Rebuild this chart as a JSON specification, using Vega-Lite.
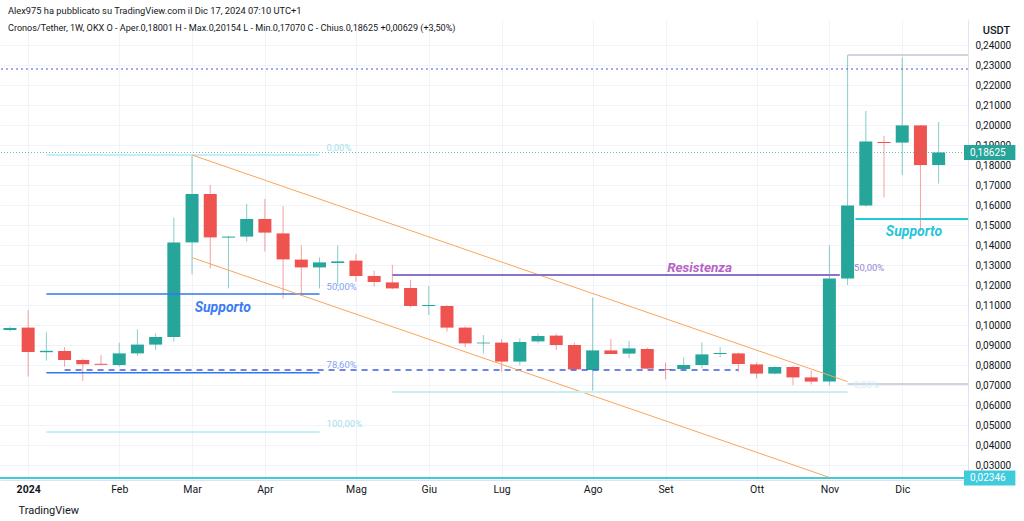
{
  "$schema": "https://vega.github.io/schema/vega-lite/v6.json",
  "width": 968,
  "height": 460,
  "autosize": {"type": "none"},
  "padding": {"left": 0, "top": 20, "right": 56, "bottom": 41},
  "background": "#ffffff",
  "config": {"view": {"stroke": null}, "font": "Roboto"},
  "title": {
    "text": "Alex975 ha pubblicato su TradingView.com il Dic 17, 2024 07:10 UTC+1",
    "subtitle": "Cronos/Tether, 1W, OKX  O - Aper.0,18001  H - Max.0,20154  L - Min.0,17070  C - Chius.0,18625  +0,00629 (+3,50%)",
    "anchor": "start",
    "frame": "group",
    "offset": -13,
    "dx": 8,
    "fontSize": 9.3,
    "fontWeight": "normal",
    "color": "#131722",
    "subtitleFontSize": 9.1,
    "subtitleColor": "#131722",
    "subtitlePadding": 8
  },
  "datasets": {
    "candles": [
      {"d": "2023-12-25", "o": 0.0975, "h": 0.0992, "l": 0.0968, "c": 0.0985},
      {"d": "2024-01-01", "o": 0.0987, "h": 0.1075, "l": 0.0742, "c": 0.0865},
      {"d": "2024-01-08", "o": 0.0864, "h": 0.0964, "l": 0.0822, "c": 0.0871},
      {"d": "2024-01-15", "o": 0.0870, "h": 0.0889, "l": 0.0792, "c": 0.0825},
      {"d": "2024-01-22", "o": 0.0825, "h": 0.0833, "l": 0.0720, "c": 0.0804},
      {"d": "2024-01-29", "o": 0.0806, "h": 0.0850, "l": 0.0800, "c": 0.0801},
      {"d": "2024-02-05", "o": 0.0800, "h": 0.0911, "l": 0.0792, "c": 0.0858},
      {"d": "2024-02-12", "o": 0.0858, "h": 0.0978, "l": 0.0845, "c": 0.0902},
      {"d": "2024-02-19", "o": 0.0902, "h": 0.0958, "l": 0.0875, "c": 0.0940},
      {"d": "2024-02-26", "o": 0.0940, "h": 0.1537, "l": 0.0917, "c": 0.1413},
      {"d": "2024-03-04", "o": 0.1413, "h": 0.1850, "l": 0.1253, "c": 0.1655},
      {"d": "2024-03-11", "o": 0.1655, "h": 0.1700, "l": 0.1283, "c": 0.1438},
      {"d": "2024-03-18", "o": 0.1437, "h": 0.1445, "l": 0.1183, "c": 0.1442},
      {"d": "2024-03-25", "o": 0.1442, "h": 0.1605, "l": 0.1417, "c": 0.1530},
      {"d": "2024-04-01", "o": 0.1530, "h": 0.1630, "l": 0.1367, "c": 0.1462},
      {"d": "2024-04-08", "o": 0.1458, "h": 0.1595, "l": 0.1133, "c": 0.1328},
      {"d": "2024-04-15", "o": 0.1327, "h": 0.1398, "l": 0.1145, "c": 0.1288},
      {"d": "2024-04-22", "o": 0.1288, "h": 0.1338, "l": 0.1183, "c": 0.1313},
      {"d": "2024-04-29", "o": 0.1310, "h": 0.1398, "l": 0.1195, "c": 0.1318},
      {"d": "2024-05-06", "o": 0.1322, "h": 0.1355, "l": 0.1217, "c": 0.1245},
      {"d": "2024-05-13", "o": 0.1245, "h": 0.1272, "l": 0.1192, "c": 0.1215},
      {"d": "2024-05-20", "o": 0.1213, "h": 0.1300, "l": 0.1178, "c": 0.1183},
      {"d": "2024-05-27", "o": 0.1185, "h": 0.1225, "l": 0.1088, "c": 0.1095},
      {"d": "2024-06-03", "o": 0.1095, "h": 0.1195, "l": 0.1050, "c": 0.1100},
      {"d": "2024-06-10", "o": 0.1095, "h": 0.1100, "l": 0.0967, "c": 0.0987},
      {"d": "2024-06-17", "o": 0.0987, "h": 0.0992, "l": 0.0889, "c": 0.0908},
      {"d": "2024-06-24", "o": 0.0908, "h": 0.0950, "l": 0.0858, "c": 0.0912},
      {"d": "2024-07-01", "o": 0.0912, "h": 0.0930, "l": 0.0767, "c": 0.0817},
      {"d": "2024-07-08", "o": 0.0817, "h": 0.0933, "l": 0.0800, "c": 0.0915},
      {"d": "2024-07-15", "o": 0.0918, "h": 0.0957, "l": 0.0908, "c": 0.0945},
      {"d": "2024-07-22", "o": 0.0947, "h": 0.0957, "l": 0.0875, "c": 0.0900},
      {"d": "2024-07-29", "o": 0.0900, "h": 0.0912, "l": 0.0776, "c": 0.0778},
      {"d": "2024-08-05", "o": 0.0775, "h": 0.1137, "l": 0.0672, "c": 0.0873},
      {"d": "2024-08-12", "o": 0.0873, "h": 0.0930, "l": 0.0853, "c": 0.0855},
      {"d": "2024-08-19", "o": 0.0857, "h": 0.0920, "l": 0.0833, "c": 0.0883},
      {"d": "2024-08-26", "o": 0.0880, "h": 0.0887, "l": 0.0780, "c": 0.0782},
      {"d": "2024-09-02", "o": 0.0780, "h": 0.0812, "l": 0.0728, "c": 0.0776},
      {"d": "2024-09-09", "o": 0.0780, "h": 0.0838, "l": 0.0770, "c": 0.0800},
      {"d": "2024-09-16", "o": 0.0800, "h": 0.0913, "l": 0.0783, "c": 0.0853},
      {"d": "2024-09-23", "o": 0.0855, "h": 0.0889, "l": 0.0838, "c": 0.0860},
      {"d": "2024-09-30", "o": 0.0858, "h": 0.0863, "l": 0.0767, "c": 0.0805},
      {"d": "2024-10-07", "o": 0.0803, "h": 0.0813, "l": 0.0732, "c": 0.0757},
      {"d": "2024-10-14", "o": 0.0757, "h": 0.0793, "l": 0.0753, "c": 0.0790},
      {"d": "2024-10-21", "o": 0.0790, "h": 0.0795, "l": 0.0700, "c": 0.0738},
      {"d": "2024-10-28", "o": 0.0738, "h": 0.0772, "l": 0.0703, "c": 0.0717},
      {"d": "2024-11-04", "o": 0.0717, "h": 0.1398, "l": 0.0698, "c": 0.1233},
      {"d": "2024-11-11", "o": 0.1233, "h": 0.2350, "l": 0.1200, "c": 0.1597},
      {"d": "2024-11-18", "o": 0.1597, "h": 0.2070, "l": 0.1592, "c": 0.1917},
      {"d": "2024-11-25", "o": 0.1915, "h": 0.1945, "l": 0.1638, "c": 0.1910},
      {"d": "2024-12-02", "o": 0.1912, "h": 0.2338, "l": 0.1750, "c": 0.1998},
      {"d": "2024-12-09", "o": 0.1998, "h": 0.2000, "l": 0.1467, "c": 0.1800},
      {"d": "2024-12-16", "o": 0.18001, "h": 0.20154, "l": 0.17070, "c": 0.18625}
    ]
  },
  "layer": [
    {
      "data": {"name": "candles"},
      "mark": {"type": "rule", "strokeWidth": 1, "opacity": 0.55},
      "encoding": {
        "x": {
          "field": "d", "type": "temporal",
          "scale": {"type": "utc", "nice": false, "domain": [
            {"year": 2023, "month": 12, "date": 23, "hours": 2, "minutes": 21, "utc": true},
            {"year": 2024, "month": 12, "date": 25, "hours": 8, "minutes": 40, "utc": true}
          ]},
          "axis": {
            "values": [
              {"year": 2024, "month": 1, "date": 1, "utc": true},
              {"year": 2024, "month": 2, "date": 5, "utc": true},
              {"year": 2024, "month": 3, "date": 4, "utc": true},
              {"year": 2024, "month": 4, "date": 1, "utc": true},
              {"year": 2024, "month": 5, "date": 6, "utc": true},
              {"year": 2024, "month": 6, "date": 3, "utc": true},
              {"year": 2024, "month": 7, "date": 1, "utc": true},
              {"year": 2024, "month": 8, "date": 5, "utc": true},
              {"year": 2024, "month": 9, "date": 2, "utc": true},
              {"year": 2024, "month": 10, "date": 7, "utc": true},
              {"year": 2024, "month": 11, "date": 4, "utc": true},
              {"year": 2024, "month": 12, "date": 2, "utc": true}
            ],
            "tickCount": 40,
            "labelExpr": "['2024','Feb','Mar','Apr','Mag','Giu','Lug','Ago','Set','Ott','Nov','Dic'][utcmonth(datum.value)]",
            "labelFontWeight": {"condition": {"test": "utcmonth(datum.value) == 0", "value": "bold"}, "value": "normal"},
            "labelFontSize": 10.5,
            "labelColor": "#131722",
            "labelFlush": false,
            "labelOverlap": false,
            "labelPadding": 4,
            "ticks": false,
            "grid": true,
            "gridColor": "#f0f3fa",
            "domainColor": "#e0e3eb",
            "title": "TradingView",
            "titleX": 18,
            "titleY": 30,
            "titleAlign": "left",
            "titleBaseline": "middle",
            "titleFontSize": 11,
            "titleFontWeight": "normal",
            "titleColor": "#131722"
          }
        },
        "y": {
          "field": "l", "type": "quantitative",
          "scale": {"domain": [0.0225, 0.2525], "zero": false, "nice": false},
          "axis": {
            "orient": "right",
            "values": [0.03, 0.04, 0.05, 0.06, 0.07, 0.08, 0.09, 0.10, 0.11, 0.12, 0.13, 0.14, 0.15, 0.16, 0.17, 0.18, 0.19, 0.20, 0.21, 0.22, 0.23, 0.24],
            "tickCount": 40,
            "labelExpr": "replace(format(datum.value, '.5f'), '.', ',')",
            "labelFontSize": 10,
            "labelColor": "#131722",
            "labelPadding": 7,
            "labelOverlap": false,
            "labelBound": false,
            "ticks": false,
            "grid": true,
            "gridColor": "#f0f3fa",
            "domainColor": "#e0e3eb",
            "title": "USDT",
            "titleAngle": 0,
            "titleX": 28,
            "titleY": 10,
            "titleAlign": "center",
            "titleBaseline": "middle",
            "titleFontSize": 11,
            "titleFontWeight": 500,
            "titleColor": "#131722"
          }
        },
        "y2": {"field": "h"},
        "color": {"condition": {"test": "datum.c >= datum.o", "value": "#26a69a"}, "value": "#ef5350"}
      }
    },
    {
      "data": {"name": "candles"},
      "mark": {"type": "bar", "width": 13},
      "encoding": {
        "x": {"field": "d", "type": "temporal"},
        "y": {"field": "o", "type": "quantitative"},
        "y2": {"field": "c"},
        "color": {"condition": {"test": "datum.c >= datum.o", "value": "#26a69a"}, "value": "#ef5350"}
      }
    },
    {
      "data": {"values": [{"d1": "2024-01-08", "d2": "2024-04-22", "p": 0.185}, {"d1": "2024-01-08", "d2": "2024-04-22", "p": 0.0465}]},
      "mark": {"type": "rule", "color": "#b2ebf2", "strokeWidth": 1.5},
      "encoding": {"x": {"field": "d1", "type": "temporal"}, "x2": {"field": "d2"}, "y": {"field": "p", "type": "quantitative"}}
    },
    {
      "data": {"values": [{"d1": "2024-01-08", "d2": "2024-04-22", "p": 0.1155}, {"d1": "2024-01-08", "d2": "2024-04-22", "p": 0.0761}]},
      "mark": {"type": "rule", "color": "#3377f0", "strokeWidth": 1.5},
      "encoding": {"x": {"field": "d1", "type": "temporal"}, "x2": {"field": "d2"}, "y": {"field": "p", "type": "quantitative"}}
    },
    {
      "data": {"values": [{"d1": "2024-01-15", "d2": "2024-09-30", "p": 0.0775}]},
      "mark": {"type": "rule", "color": "#3f5fd9", "strokeWidth": 1.5, "strokeDash": [6, 5]},
      "encoding": {"x": {"field": "d1", "type": "temporal"}, "x2": {"field": "d2"}, "y": {"field": "p", "type": "quantitative"}}
    },
    {
      "data": {"values": [{"p": 0.228}]},
      "mark": {"type": "rule", "color": "#4a5cd6", "strokeWidth": 1, "strokeDash": [2, 3]},
      "encoding": {"y": {"field": "p", "type": "quantitative"}}
    },
    {
      "data": {"values": [{"p": 0.18625}]},
      "mark": {"type": "rule", "color": "#26a69a", "strokeWidth": 1, "strokeDash": [1, 2], "opacity": 0.7},
      "encoding": {"y": {"field": "p", "type": "quantitative"}}
    },
    {
      "data": {"values": [{"p": 0.02346}]},
      "mark": {"type": "rule", "color": "#3fcbdc", "strokeWidth": 2},
      "encoding": {"y": {"field": "p", "type": "quantitative"}}
    },
    {
      "data": {"values": [
        {"d1": "2024-03-04", "p1": 0.185, "d2": "2024-11-11", "p2": 0.0717},
        {"d1": "2024-03-04", "p1": 0.1337, "d2": "2024-11-04", "p2": 0.0238}
      ]},
      "mark": {"type": "rule", "color": "#f9a65a", "strokeWidth": 1},
      "encoding": {"x": {"field": "d1", "type": "temporal"}, "x2": {"field": "d2"}, "y": {"field": "p1", "type": "quantitative"}, "y2": {"field": "p2"}}
    },
    {
      "data": {"values": [{"d1": "2024-05-20", "d2": "2024-11-08", "p": 0.125}]},
      "mark": {"type": "rule", "color": "#8c72c8", "strokeWidth": 2},
      "encoding": {"x": {"field": "d1", "type": "temporal"}, "x2": {"field": "d2"}, "y": {"field": "p", "type": "quantitative"}}
    },
    {
      "data": {"values": [{"d1": "2024-05-20", "d2": "2024-11-11", "p": 0.0665}]},
      "mark": {"type": "rule", "color": "#c9eff4", "strokeWidth": 2},
      "encoding": {"x": {"field": "d1", "type": "temporal"}, "x2": {"field": "d2"}, "y": {"field": "p", "type": "quantitative"}}
    },
    {
      "data": {"values": [{"d1": "2024-11-11", "d2": "2024-12-31", "p": 0.235}, {"d1": "2024-11-11", "d2": "2024-12-31", "p": 0.0705}]},
      "mark": {"type": "rule", "color": "#d1d4dc", "strokeWidth": 2, "clip": true},
      "encoding": {"x": {"field": "d1", "type": "temporal"}, "x2": {"field": "d2"}, "y": {"field": "p", "type": "quantitative"}}
    },
    {
      "data": {"values": [{"d1": "2024-11-14", "d2": "2024-12-31", "p": 0.153}]},
      "mark": {"type": "rule", "color": "#26c6da", "strokeWidth": 2, "clip": true},
      "encoding": {"x": {"field": "d1", "type": "temporal"}, "x2": {"field": "d2"}, "y": {"field": "p", "type": "quantitative"}}
    },
    {
      "data": {"values": [{"d": "2024-03-05T00:00:00Z", "p": 0.1085, "t": "Supporto"}]},
      "mark": {"type": "text", "align": "left", "baseline": "middle", "fontSize": 14, "fontWeight": "bold", "fontStyle": "italic", "color": "#3b7cf4"},
      "encoding": {"x": {"field": "d", "type": "temporal"}, "y": {"field": "p", "type": "quantitative"}, "text": {"field": "t"}}
    },
    {
      "data": {"values": [{"d": "2024-09-02T15:00:00Z", "p": 0.1285, "t": "Resistenza"}]},
      "mark": {"type": "text", "align": "left", "baseline": "middle", "fontSize": 13.5, "fontWeight": "bold", "fontStyle": "italic", "color": "#b564c6"},
      "encoding": {"x": {"field": "d", "type": "temporal"}, "y": {"field": "p", "type": "quantitative"}, "text": {"field": "t"}}
    },
    {
      "data": {"values": [{"d": "2024-11-25T17:00:00Z", "p": 0.1465, "t": "Supporto"}]},
      "mark": {"type": "text", "align": "left", "baseline": "middle", "fontSize": 14, "fontWeight": "bold", "fontStyle": "italic", "color": "#26c6da"},
      "encoding": {"x": {"field": "d", "type": "temporal"}, "y": {"field": "p", "type": "quantitative"}, "text": {"field": "t"}}
    },
    {
      "data": {"values": [{"d": "2024-04-24T17:00:00Z", "p": 0.1885, "t": "0,00%"}, {"d": "2024-04-24T17:00:00Z", "p": 0.0505, "t": "100,00%"}]},
      "mark": {"type": "text", "align": "left", "baseline": "middle", "fontSize": 9.5, "color": "#a6e0ea"},
      "encoding": {"x": {"field": "d", "type": "temporal"}, "y": {"field": "p", "type": "quantitative"}, "text": {"field": "t"}}
    },
    {
      "data": {"values": [{"d": "2024-04-24T17:00:00Z", "p": 0.119, "t": "50,00%"}, {"d": "2024-04-24T17:00:00Z", "p": 0.080, "t": "78,60%"}]},
      "mark": {"type": "text", "align": "left", "baseline": "middle", "fontSize": 9.5, "color": "#84a5f2"},
      "encoding": {"x": {"field": "d", "type": "temporal"}, "y": {"field": "p", "type": "quantitative"}, "text": {"field": "t"}}
    },
    {
      "data": {"values": [{"d": "2024-11-13T12:00:00Z", "p": 0.1285, "t": "50,00%"}]},
      "mark": {"type": "text", "align": "left", "baseline": "middle", "fontSize": 9.5, "color": "#9c86d2"},
      "encoding": {"x": {"field": "d", "type": "temporal"}, "y": {"field": "p", "type": "quantitative"}, "text": {"field": "t"}}
    },
    {
      "data": {"values": [{"d": "2024-11-13T12:00:00Z", "p": 0.070, "t": "0,00%"}]},
      "mark": {"type": "text", "align": "left", "baseline": "middle", "fontSize": 9.5, "color": "#d3eef4"},
      "encoding": {"x": {"field": "d", "type": "temporal"}, "y": {"field": "p", "type": "quantitative"}, "text": {"field": "t"}}
    },
    {
      "data": {"values": [{"d1": "2024-12-25T18:00:00Z", "d2": "2025-01-14T12:00:00Z", "p": 0.18625, "t": "0,18625"}]},
      "mark": {"type": "rule", "color": "#26a69a", "strokeWidth": 15, "strokeCap": "butt"},
      "encoding": {"x": {"field": "d1", "type": "temporal"}, "x2": {"field": "d2"}, "y": {"field": "p", "type": "quantitative"}}
    },
    {
      "data": {"values": [{"d1": "2024-12-25T18:00:00Z", "d2": "2025-01-14T12:00:00Z", "p": 0.02346, "t": "0,02346"}]},
      "mark": {"type": "rule", "color": "#3fcbdc", "strokeWidth": 15, "strokeCap": "butt"},
      "encoding": {"x": {"field": "d1", "type": "temporal"}, "x2": {"field": "d2"}, "y": {"field": "p", "type": "quantitative"}}
    },
    {
      "data": {"values": [{"d1": "2024-12-25T18:00:00Z", "p": 0.18625, "t": "0,18625"}, {"d1": "2024-12-25T18:00:00Z", "p": 0.02346, "t": "0,02346"}]},
      "mark": {"type": "text", "align": "left", "baseline": "middle", "fontSize": 10, "dx": 6, "color": "#ffffff"},
      "encoding": {"x": {"field": "d1", "type": "temporal"}, "y": {"field": "p", "type": "quantitative"}, "text": {"field": "t"}}
    }
  ]
}
